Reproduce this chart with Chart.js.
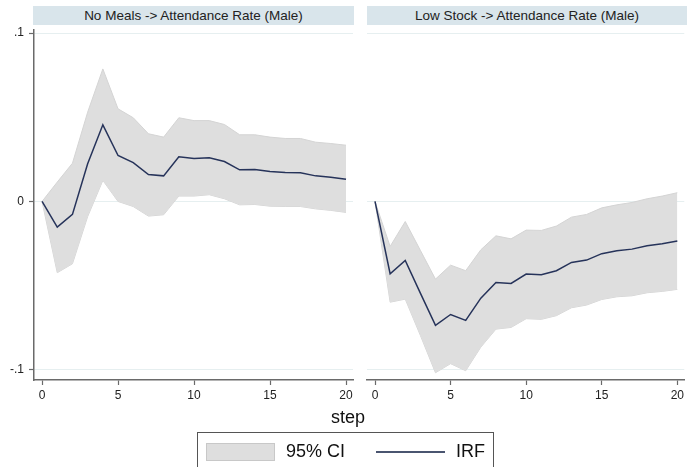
<!DOCTYPE html>
<html>
<head>
<meta charset="utf-8">
<script src="https://cdn.jsdelivr.net/npm/chart.js@4/dist/chart.umd.min.js"></script>
<style>
  html, body { margin: 0; padding: 0; background: #fff; }
  body { width: 687px; height: 467px; position: relative; overflow: hidden;
         font-family: "Liberation Sans", Arial, sans-serif; color: #1a1a1a; }
  .strip { position: absolute; top: 6px; height: 19px; background: #d9e5eb;
           font-size: 13.5px; line-height: 19px; text-align: center; color: #222; }
  .cv { position: absolute; top: 0; }
  #steplbl { position: absolute; left: 300px; width: 96px; top: 407px; text-align: center;
             font-size: 18px; color: #111; }
  #legend { position: absolute; left: 197px; top: 432px; width: 297px; height: 44px;
            border: 1px solid #555; box-sizing: border-box; background: #fff; }
  #legend .sw { position: absolute; left: 8px; top: 10px; width: 69px; height: 18px;
                background: #dedede; border: 1px solid #c8c8c8; box-sizing: border-box; }
  #legend .t { position: absolute; top: 8px; font-size: 18px; line-height: 20px; color: #111; }
  #legend .ln { position: absolute; left: 178px; top: 18px; width: 69px; height: 2px; background: #4a5570; }
</style>
</head>
<body>
<div class="strip" style="left:33px;width:321px;">No Meals -&gt; Attendance Rate (Male)</div>
<div class="strip" style="left:367px;width:320px;">Low Stock -&gt; Attendance Rate (Male)</div>
<canvas id="c1" class="cv" style="left:0px;" width="360" height="410"></canvas>
<canvas id="c2" class="cv" style="left:360px;" width="327" height="410"></canvas>
<div id="steplbl">step</div>
<div id="legend">
  <div class="sw"></div>
  <div class="t" style="left:88px;">95% CI</div>
  <div class="ln"></div>
  <div class="t" style="left:258px;">IRF</div>
</div>
<script>
// Forecast horizon
const steps = [0,1,2,3,4,5,6,7,8,9,10,11,12,13,14,15,16,17,18,19,20];
const xTicks = [0, 5, 10, 15, 20];
const yTicks = [-0.1, 0, 0.1];
const yTickLabels = ['-.1', '0', '.1'];

// No Meals -> Attendance Rate (Male)
const mealsIrf   = [0,-0.0152,-0.0077,0.0224,0.0455,0.0273,0.0231,0.0160,0.0152,0.0265,0.0255,0.0259,0.0237,0.0188,0.0190,0.0178,0.0172,0.0170,0.0152,0.0144,0.0132];
const mealsUpper = [0,0.0115,0.0227,0.0530,0.0787,0.0550,0.0497,0.0402,0.0382,0.0497,0.0480,0.0480,0.0457,0.0396,0.0396,0.0382,0.0374,0.0374,0.0352,0.0344,0.0334];
const mealsLower = [0,-0.0423,-0.0370,-0.0090,0.0125,0.0000,-0.0030,-0.0087,-0.0079,0.0032,0.0032,0.0040,0.0016,-0.0020,-0.0018,-0.0028,-0.0030,-0.0030,-0.0044,-0.0053,-0.0065];

// Low Stock -> Attendance Rate (Male)
const stockIrf   = [0,-0.0429,-0.0350,-0.0544,-0.0736,-0.0671,-0.0706,-0.0574,-0.0481,-0.0487,-0.0431,-0.0435,-0.0411,-0.0362,-0.0348,-0.0310,-0.0293,-0.0283,-0.0263,-0.0251,-0.0235];
const stockUpper = [0,-0.0267,-0.0119,-0.0290,-0.0461,-0.0378,-0.0411,-0.0287,-0.0204,-0.0222,-0.0170,-0.0172,-0.0146,-0.0093,-0.0077,-0.0038,-0.0020,-0.0006,0.0016,0.0032,0.0052];
const stockLower = [0,-0.0598,-0.0580,-0.0795,-0.1017,-0.0963,-0.1005,-0.0865,-0.0758,-0.0748,-0.0696,-0.0700,-0.0678,-0.0631,-0.0615,-0.0582,-0.0566,-0.0560,-0.0542,-0.0534,-0.0522];

const pts = arr => steps.map((s, i) => ({ x: s, y: arr[i] }));
const axisColor = '#6a6a6a';
const gridColor = '#e6eff0';
const tickFont = { family: '"Liberation Sans", Arial, sans-serif', size: 12 };

function makePanel(id, irf, upper, lower, showY, padRight) {
  return new Chart(document.getElementById(id), {
    type: 'line',
    data: {
      datasets: [
        { label: '95% CI', data: pts(upper), fill: '+1', backgroundColor: '#dedede',
          borderColor: '#d4d4d4', borderWidth: 1, pointRadius: 0, tension: 0, order: 2 },
        { label: 'lower', data: pts(lower), fill: false, borderColor: '#d4d4d4',
          borderWidth: 1, pointRadius: 0, tension: 0, order: 2 },
        { label: 'IRF', data: pts(irf), fill: false, borderColor: '#26335a',
          borderWidth: 1.5, pointRadius: 0, tension: 0, order: 1 }
      ]
    },
    options: {
      responsive: false,
      animation: false,
      events: [],
      layout: { padding: { top: 30, right: padRight, left: 0, bottom: 0 } },
      plugins: { legend: { display: false }, tooltip: { enabled: false }, title: { display: false } },
      scales: {
        x: {
          type: 'linear', min: -0.53, max: 20.46,
          afterBuildTicks: s => { s.ticks = xTicks.map(v => ({ value: v })); },
          afterFit: s => { s.height = 30; },
          ticks: { color: '#222', font: tickFont, padding: 3, maxRotation: 0,
                   callback: v => String(v) },
          grid: { drawOnChartArea: false, drawTicks: true, tickLength: 5, tickColor: axisColor, tickWidth: 1.2 },
          border: { display: true, color: axisColor, width: 1.5 }
        },
        y: {
          type: 'linear', min: -0.106, max: 0.1018,
          afterBuildTicks: s => { s.ticks = yTicks.map(v => ({ value: v })); },
          afterFit: s => { s.width = showY ? 34 : 7; },
          ticks: { display: showY, color: '#222', font: tickFont, padding: 5,
                   callback: (v) => yTickLabels[yTicks.findIndex(t => Math.abs(t - v) < 1e-9)] },
          grid: { drawOnChartArea: true, color: gridColor, lineWidth: 1,
                  drawTicks: showY, tickLength: 5, tickColor: axisColor, tickWidth: 1.2 },
          border: { display: showY, color: axisColor, width: 1.5 }
        }
      }
    }
  });
}

makePanel('c1', mealsIrf, mealsUpper, mealsLower, true, 7);
makePanel('c2', stockIrf, stockUpper, stockLower, false, 0);
</script>
</body>
</html>
